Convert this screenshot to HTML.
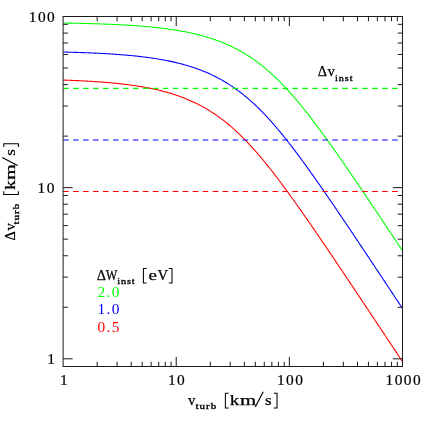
<!DOCTYPE html>
<html><head><meta charset="utf-8"><title>plot</title>
<style>html,body{margin:0;padding:0;background:#fff;overflow:hidden;}svg{display:block;will-change:transform;}text{font-family:"Liberation Serif",serif;fill:#000;stroke:#000;stroke-width:0.25;}.sb{font-family:"Liberation Serif",serif;stroke:#000;stroke-width:0.35;}</style></head><body>
<svg width="425" height="425" viewBox="0 0 425 425">
<rect x="0" y="0" width="425" height="425" fill="#fff"/>
<clipPath id="c"><rect x="63.10" y="16.50" width="339.40" height="350.00"/></clipPath>
<g clip-path="url(#c)" fill="none" stroke-width="1.08">
<path d="M63.10,23.02 L64.23,23.04 L65.36,23.06 L66.49,23.07 L67.63,23.09 L68.76,23.12 L69.89,23.14 L71.02,23.16 L72.15,23.18 L73.28,23.20 L74.41,23.23 L75.54,23.25 L76.68,23.27 L77.81,23.30 L78.94,23.32 L80.07,23.35 L81.20,23.37 L82.33,23.40 L83.46,23.43 L84.60,23.46 L85.73,23.49 L86.86,23.52 L87.99,23.55 L89.12,23.58 L90.25,23.61 L91.38,23.64 L92.51,23.68 L93.65,23.71 L94.78,23.74 L95.91,23.78 L97.04,23.82 L98.17,23.85 L99.30,23.89 L100.43,23.93 L101.57,23.97 L102.70,24.01 L103.83,24.05 L104.96,24.10 L106.09,24.14 L107.22,24.18 L108.35,24.23 L109.48,24.28 L110.62,24.33 L111.75,24.37 L112.88,24.43 L114.01,24.48 L115.14,24.53 L116.27,24.58 L117.40,24.64 L118.54,24.69 L119.67,24.75 L120.80,24.81 L121.93,24.87 L123.06,24.93 L124.19,25.00 L125.32,25.06 L126.45,25.13 L127.59,25.20 L128.72,25.27 L129.85,25.34 L130.98,25.41 L132.11,25.48 L133.24,25.56 L134.37,25.64 L135.51,25.72 L136.64,25.80 L137.77,25.88 L138.90,25.97 L140.03,26.05 L141.16,26.14 L142.29,26.24 L143.42,26.33 L144.56,26.42 L145.69,26.52 L146.82,26.62 L147.95,26.73 L149.08,26.83 L150.21,26.94 L151.34,27.05 L152.48,27.16 L153.61,27.28 L154.74,27.39 L155.87,27.51 L157.00,27.64 L158.13,27.76 L159.26,27.89 L160.39,28.02 L161.53,28.16 L162.66,28.30 L163.79,28.44 L164.92,28.58 L166.05,28.73 L167.18,28.88 L168.31,29.04 L169.45,29.20 L170.58,29.36 L171.71,29.52 L172.84,29.69 L173.97,29.87 L175.10,30.04 L176.23,30.23 L177.36,30.41 L178.50,30.60 L179.63,30.80 L180.76,31.00 L181.89,31.20 L183.02,31.41 L184.15,31.62 L185.28,31.84 L186.42,32.06 L187.55,32.29 L188.68,32.52 L189.81,32.76 L190.94,33.00 L192.07,33.25 L193.20,33.51 L194.33,33.77 L195.47,34.04 L196.60,34.31 L197.73,34.59 L198.86,34.88 L199.99,35.17 L201.12,35.47 L202.25,35.77 L203.39,36.08 L204.52,36.40 L205.65,36.73 L206.78,37.06 L207.91,37.40 L209.04,37.75 L210.17,38.11 L211.30,38.47 L212.44,38.85 L213.57,39.23 L214.70,39.62 L215.83,40.01 L216.96,40.42 L218.09,40.84 L219.22,41.26 L220.36,41.69 L221.49,42.14 L222.62,42.59 L223.75,43.05 L224.88,43.53 L226.01,44.01 L227.14,44.50 L228.27,45.01 L229.41,45.52 L230.54,46.05 L231.67,46.58 L232.80,47.13 L233.93,47.69 L235.06,48.26 L236.19,48.84 L237.33,49.43 L238.46,50.04 L239.59,50.66 L240.72,51.29 L241.85,51.93 L242.98,52.59 L244.11,53.26 L245.24,53.94 L246.38,54.64 L247.51,55.35 L248.64,56.07 L249.77,56.81 L250.90,57.56 L252.03,58.32 L253.16,59.10 L254.30,59.89 L255.43,60.70 L256.56,61.52 L257.69,62.36 L258.82,63.21 L259.95,64.08 L261.08,64.96 L262.21,65.85 L263.35,66.76 L264.48,67.69 L265.61,68.63 L266.74,69.59 L267.87,70.56 L269.00,71.55 L270.13,72.55 L271.27,73.56 L272.40,74.60 L273.53,75.64 L274.66,76.71 L275.79,77.78 L276.92,78.87 L278.05,79.98 L279.18,81.10 L280.32,82.24 L281.45,83.39 L282.58,84.56 L283.71,85.74 L284.84,86.93 L285.97,88.14 L287.10,89.36 L288.24,90.59 L289.37,91.84 L290.50,93.11 L291.63,94.38 L292.76,95.67 L293.89,96.97 L295.02,98.29 L296.15,99.61 L297.29,100.95 L298.42,102.30 L299.55,103.66 L300.68,105.03 L301.81,106.42 L302.94,107.81 L304.07,109.22 L305.21,110.64 L306.34,112.06 L307.47,113.50 L308.60,114.94 L309.73,116.40 L310.86,117.86 L311.99,119.34 L313.12,120.82 L314.26,122.31 L315.39,123.81 L316.52,125.32 L317.65,126.83 L318.78,128.35 L319.91,129.88 L321.04,131.42 L322.18,132.96 L323.31,134.51 L324.44,136.06 L325.57,137.63 L326.70,139.19 L327.83,140.77 L328.96,142.35 L330.09,143.93 L331.23,145.52 L332.36,147.11 L333.49,148.71 L334.62,150.32 L335.75,151.92 L336.88,153.54 L338.01,155.15 L339.15,156.77 L340.28,158.40 L341.41,160.02 L342.54,161.66 L343.67,163.29 L344.80,164.93 L345.93,166.57 L347.06,168.21 L348.20,169.86 L349.33,171.51 L350.46,173.16 L351.59,174.82 L352.72,176.47 L353.85,178.13 L354.98,179.80 L356.12,181.46 L357.25,183.13 L358.38,184.79 L359.51,186.46 L360.64,188.14 L361.77,189.81 L362.90,191.48 L364.03,193.16 L365.17,194.84 L366.30,196.52 L367.43,198.20 L368.56,199.88 L369.69,201.57 L370.82,203.25 L371.95,204.94 L373.09,206.62 L374.22,208.31 L375.35,210.00 L376.48,211.69 L377.61,213.38 L378.74,215.07 L379.87,216.77 L381.00,218.46 L382.14,220.16 L383.27,221.85 L384.40,223.55 L385.53,225.24 L386.66,226.94 L387.79,228.64 L388.92,230.34 L390.06,232.04 L391.19,233.74 L392.32,235.44 L393.45,237.14 L394.58,238.84 L395.71,240.54 L396.84,242.24 L397.97,243.95 L399.11,245.65 L400.24,247.35 L401.37,249.06 L402.50,250.76" stroke="#00ff00"/>
<path d="M63.10,52.03 L64.23,52.06 L65.36,52.08 L66.49,52.11 L67.63,52.14 L68.76,52.17 L69.89,52.20 L71.02,52.24 L72.15,52.27 L73.28,52.30 L74.41,52.34 L75.54,52.37 L76.68,52.41 L77.81,52.44 L78.94,52.48 L80.07,52.52 L81.20,52.56 L82.33,52.60 L83.46,52.64 L84.60,52.68 L85.73,52.72 L86.86,52.77 L87.99,52.81 L89.12,52.86 L90.25,52.90 L91.38,52.95 L92.51,53.00 L93.65,53.05 L94.78,53.10 L95.91,53.15 L97.04,53.21 L98.17,53.26 L99.30,53.32 L100.43,53.38 L101.57,53.44 L102.70,53.50 L103.83,53.56 L104.96,53.62 L106.09,53.69 L107.22,53.75 L108.35,53.82 L109.48,53.89 L110.62,53.96 L111.75,54.03 L112.88,54.11 L114.01,54.18 L115.14,54.26 L116.27,54.34 L117.40,54.42 L118.54,54.51 L119.67,54.59 L120.80,54.68 L121.93,54.77 L123.06,54.86 L124.19,54.95 L125.32,55.05 L126.45,55.15 L127.59,55.25 L128.72,55.35 L129.85,55.45 L130.98,55.56 L132.11,55.67 L133.24,55.78 L134.37,55.90 L135.51,56.01 L136.64,56.13 L137.77,56.26 L138.90,56.38 L140.03,56.51 L141.16,56.64 L142.29,56.78 L143.42,56.92 L144.56,57.06 L145.69,57.20 L146.82,57.35 L147.95,57.50 L149.08,57.66 L150.21,57.81 L151.34,57.98 L152.48,58.14 L153.61,58.31 L154.74,58.48 L155.87,58.66 L157.00,58.84 L158.13,59.03 L159.26,59.22 L160.39,59.41 L161.53,59.61 L162.66,59.81 L163.79,60.02 L164.92,60.23 L166.05,60.45 L167.18,60.67 L168.31,60.90 L169.45,61.13 L170.58,61.37 L171.71,61.62 L172.84,61.86 L173.97,62.12 L175.10,62.38 L176.23,62.65 L177.36,62.92 L178.50,63.20 L179.63,63.48 L180.76,63.77 L181.89,64.07 L183.02,64.38 L184.15,64.69 L185.28,65.01 L186.42,65.33 L187.55,65.67 L188.68,66.01 L189.81,66.35 L190.94,66.71 L192.07,67.07 L193.20,67.45 L194.33,67.83 L195.47,68.21 L196.60,68.61 L197.73,69.02 L198.86,69.43 L199.99,69.86 L201.12,70.29 L202.25,70.73 L203.39,71.18 L204.52,71.64 L205.65,72.12 L206.78,72.60 L207.91,73.09 L209.04,73.59 L210.17,74.11 L211.30,74.63 L212.44,75.17 L213.57,75.71 L214.70,76.27 L215.83,76.84 L216.96,77.42 L218.09,78.01 L219.22,78.62 L220.36,79.23 L221.49,79.86 L222.62,80.51 L223.75,81.16 L224.88,81.83 L226.01,82.51 L227.14,83.21 L228.27,83.91 L229.41,84.64 L230.54,85.37 L231.67,86.12 L232.80,86.88 L233.93,87.66 L235.06,88.45 L236.19,89.26 L237.33,90.08 L238.46,90.91 L239.59,91.76 L240.72,92.63 L241.85,93.51 L242.98,94.40 L244.11,95.31 L245.24,96.24 L246.38,97.18 L247.51,98.13 L248.64,99.10 L249.77,100.09 L250.90,101.09 L252.03,102.10 L253.16,103.13 L254.30,104.18 L255.43,105.24 L256.56,106.32 L257.69,107.41 L258.82,108.51 L259.95,109.64 L261.08,110.77 L262.21,111.92 L263.35,113.09 L264.48,114.26 L265.61,115.46 L266.74,116.67 L267.87,117.89 L269.00,119.12 L270.13,120.37 L271.27,121.63 L272.40,122.91 L273.53,124.20 L274.66,125.50 L275.79,126.81 L276.92,128.14 L278.05,129.48 L279.18,130.83 L280.32,132.19 L281.45,133.56 L282.58,134.95 L283.71,136.34 L284.84,137.75 L285.97,139.16 L287.10,140.59 L288.24,142.03 L289.37,143.48 L290.50,144.93 L291.63,146.40 L292.76,147.87 L293.89,149.35 L295.02,150.85 L296.15,152.35 L297.29,153.85 L298.42,155.37 L299.55,156.89 L300.68,158.42 L301.81,159.96 L302.94,161.50 L304.07,163.06 L305.21,164.61 L306.34,166.18 L307.47,167.75 L308.60,169.32 L309.73,170.90 L310.86,172.49 L311.99,174.08 L313.12,175.67 L314.26,177.28 L315.39,178.88 L316.52,180.49 L317.65,182.11 L318.78,183.72 L319.91,185.35 L321.04,186.97 L322.18,188.60 L323.31,190.24 L324.44,191.87 L325.57,193.51 L326.70,195.16 L327.83,196.80 L328.96,198.45 L330.09,200.10 L331.23,201.76 L332.36,203.41 L333.49,205.07 L334.62,206.74 L335.75,208.40 L336.88,210.07 L338.01,211.73 L339.15,213.40 L340.28,215.08 L341.41,216.75 L342.54,218.43 L343.67,220.10 L344.80,221.78 L345.93,223.46 L347.06,225.14 L348.20,226.83 L349.33,228.51 L350.46,230.20 L351.59,231.88 L352.72,233.57 L353.85,235.26 L354.98,236.95 L356.12,238.64 L357.25,240.33 L358.38,242.03 L359.51,243.72 L360.64,245.42 L361.77,247.11 L362.90,248.81 L364.03,250.51 L365.17,252.20 L366.30,253.90 L367.43,255.60 L368.56,257.30 L369.69,259.00 L370.82,260.70 L371.95,262.40 L373.09,264.11 L374.22,265.81 L375.35,267.51 L376.48,269.21 L377.61,270.92 L378.74,272.62 L379.87,274.33 L381.00,276.03 L382.14,277.74 L383.27,279.44 L384.40,281.15 L385.53,282.85 L386.66,284.56 L387.79,286.27 L388.92,287.97 L390.06,289.68 L391.19,291.39 L392.32,293.10 L393.45,294.80 L394.58,296.51 L395.71,298.22 L396.84,299.93 L397.97,301.64 L399.11,303.35 L400.24,305.05 L401.37,306.76 L402.50,308.47" stroke="#0000ff"/>
<path d="M63.10,80.07 L64.23,80.11 L65.36,80.15 L66.49,80.19 L67.63,80.23 L68.76,80.27 L69.89,80.32 L71.02,80.36 L72.15,80.41 L73.28,80.46 L74.41,80.50 L75.54,80.55 L76.68,80.61 L77.81,80.66 L78.94,80.71 L80.07,80.77 L81.20,80.82 L82.33,80.88 L83.46,80.94 L84.60,81.00 L85.73,81.06 L86.86,81.12 L87.99,81.18 L89.12,81.25 L90.25,81.32 L91.38,81.38 L92.51,81.45 L93.65,81.53 L94.78,81.60 L95.91,81.67 L97.04,81.75 L98.17,81.83 L99.30,81.91 L100.43,81.99 L101.57,82.08 L102.70,82.16 L103.83,82.25 L104.96,82.34 L106.09,82.43 L107.22,82.53 L108.35,82.63 L109.48,82.72 L110.62,82.83 L111.75,82.93 L112.88,83.04 L114.01,83.14 L115.14,83.26 L116.27,83.37 L117.40,83.49 L118.54,83.60 L119.67,83.73 L120.80,83.85 L121.93,83.98 L123.06,84.11 L124.19,84.24 L125.32,84.38 L126.45,84.52 L127.59,84.66 L128.72,84.81 L129.85,84.96 L130.98,85.11 L132.11,85.27 L133.24,85.43 L134.37,85.59 L135.51,85.76 L136.64,85.93 L137.77,86.10 L138.90,86.28 L140.03,86.47 L141.16,86.65 L142.29,86.85 L143.42,87.04 L144.56,87.24 L145.69,87.45 L146.82,87.66 L147.95,87.88 L149.08,88.10 L150.21,88.32 L151.34,88.55 L152.48,88.79 L153.61,89.03 L154.74,89.27 L155.87,89.53 L157.00,89.78 L158.13,90.05 L159.26,90.32 L160.39,90.59 L161.53,90.88 L162.66,91.17 L163.79,91.46 L164.92,91.76 L166.05,92.07 L167.18,92.39 L168.31,92.71 L169.45,93.04 L170.58,93.38 L171.71,93.72 L172.84,94.07 L173.97,94.43 L175.10,94.80 L176.23,95.18 L177.36,95.56 L178.50,95.96 L179.63,96.36 L180.76,96.77 L181.89,97.19 L183.02,97.62 L184.15,98.06 L185.28,98.50 L186.42,98.96 L187.55,99.43 L188.68,99.91 L189.81,100.39 L190.94,100.89 L192.07,101.40 L193.20,101.92 L194.33,102.45 L195.47,102.99 L196.60,103.54 L197.73,104.11 L198.86,104.68 L199.99,105.27 L201.12,105.87 L202.25,106.48 L203.39,107.11 L204.52,107.75 L205.65,108.40 L206.78,109.06 L207.91,109.73 L209.04,110.42 L210.17,111.12 L211.30,111.84 L212.44,112.57 L213.57,113.31 L214.70,114.07 L215.83,114.84 L216.96,115.63 L218.09,116.43 L219.22,117.24 L220.36,118.07 L221.49,118.91 L222.62,119.77 L223.75,120.64 L224.88,121.53 L226.01,122.43 L227.14,123.35 L228.27,124.28 L229.41,125.23 L230.54,126.19 L231.67,127.17 L232.80,128.16 L233.93,129.17 L235.06,130.19 L236.19,131.23 L237.33,132.28 L238.46,133.35 L239.59,134.43 L240.72,135.53 L241.85,136.64 L242.98,137.77 L244.11,138.91 L245.24,140.06 L246.38,141.23 L247.51,142.42 L248.64,143.62 L249.77,144.83 L250.90,146.05 L252.03,147.29 L253.16,148.55 L254.30,149.81 L255.43,151.09 L256.56,152.38 L257.69,153.69 L258.82,155.00 L259.95,156.33 L261.08,157.67 L262.21,159.02 L263.35,160.39 L264.48,161.76 L265.61,163.14 L266.74,164.54 L267.87,165.95 L269.00,167.36 L270.13,168.79 L271.27,170.23 L272.40,171.67 L273.53,173.12 L274.66,174.59 L275.79,176.06 L276.92,177.54 L278.05,179.03 L279.18,180.53 L280.32,182.03 L281.45,183.54 L282.58,185.06 L283.71,186.59 L284.84,188.12 L285.97,189.66 L287.10,191.21 L288.24,192.76 L289.37,194.32 L290.50,195.88 L291.63,197.45 L292.76,199.02 L293.89,200.60 L295.02,202.19 L296.15,203.78 L297.29,205.37 L298.42,206.97 L299.55,208.58 L300.68,210.18 L301.81,211.79 L302.94,213.41 L304.07,215.03 L305.21,216.65 L306.34,218.28 L307.47,219.91 L308.60,221.54 L309.73,223.17 L310.86,224.81 L311.99,226.45 L313.12,228.10 L314.26,229.74 L315.39,231.39 L316.52,233.04 L317.65,234.70 L318.78,236.35 L319.91,238.01 L321.04,239.67 L322.18,241.33 L323.31,243.00 L324.44,244.66 L325.57,246.33 L326.70,248.00 L327.83,249.67 L328.96,251.34 L330.09,253.01 L331.23,254.69 L332.36,256.37 L333.49,258.04 L334.62,259.72 L335.75,261.40 L336.88,263.08 L338.01,264.77 L339.15,266.45 L340.28,268.13 L341.41,269.82 L342.54,271.51 L343.67,273.19 L344.80,274.88 L345.93,276.57 L347.06,278.26 L348.20,279.95 L349.33,281.64 L350.46,283.33 L351.59,285.03 L352.72,286.72 L353.85,288.41 L354.98,290.11 L356.12,291.80 L357.25,293.50 L358.38,295.19 L359.51,296.89 L360.64,298.59 L361.77,300.29 L362.90,301.98 L364.03,303.68 L365.17,305.38 L366.30,307.08 L367.43,308.78 L368.56,310.48 L369.69,312.18 L370.82,313.88 L371.95,315.58 L373.09,317.29 L374.22,318.99 L375.35,320.69 L376.48,322.39 L377.61,324.10 L378.74,325.80 L379.87,327.50 L381.00,329.21 L382.14,330.91 L383.27,332.61 L384.40,334.32 L385.53,336.02 L386.66,337.73 L387.79,339.43 L388.92,341.14 L390.06,342.84 L391.19,344.55 L392.32,346.25 L393.45,347.96 L394.58,349.67 L395.71,351.37 L396.84,353.08 L397.97,354.78 L399.11,356.49 L400.24,358.20 L401.37,359.91 L402.50,361.61" stroke="#ff0000"/>
<line x1="63.10" y1="88.36" x2="402.50" y2="88.36" stroke="#00ff00" stroke-dasharray="5.6,4.37"/>
<line x1="63.10" y1="140.02" x2="402.50" y2="140.02" stroke="#0000ff" stroke-dasharray="5.6,4.37"/>
<line x1="63.10" y1="191.46" x2="402.50" y2="191.46" stroke="#ff0000" stroke-dasharray="5.6,4.37"/>
</g>
<g stroke="#1a1a1a" stroke-width="1.0" fill="none">
<rect x="63.10" y="16.50" width="339.40" height="350.00"/>
<path d="M97.16,366.50 v-4.80 M97.16,16.50 v4.80 M117.08,366.50 v-4.80 M117.08,16.50 v4.80 M131.21,366.50 v-4.80 M131.21,16.50 v4.80 M142.18,366.50 v-4.80 M142.18,16.50 v4.80 M151.13,366.50 v-4.80 M151.13,16.50 v4.80 M158.71,366.50 v-4.80 M158.71,16.50 v4.80 M165.27,366.50 v-4.80 M165.27,16.50 v4.80 M171.06,366.50 v-4.80 M171.06,16.50 v4.80 M176.23,366.50 v-9.60 M176.23,16.50 v9.60 M210.29,366.50 v-4.80 M210.29,16.50 v4.80 M230.21,366.50 v-4.80 M230.21,16.50 v4.80 M244.35,366.50 v-4.80 M244.35,16.50 v4.80 M255.31,366.50 v-4.80 M255.31,16.50 v4.80 M264.27,366.50 v-4.80 M264.27,16.50 v4.80 M271.84,366.50 v-4.80 M271.84,16.50 v4.80 M278.40,366.50 v-4.80 M278.40,16.50 v4.80 M284.19,366.50 v-4.80 M284.19,16.50 v4.80 M289.37,366.50 v-9.60 M289.37,16.50 v9.60 M323.42,366.50 v-4.80 M323.42,16.50 v4.80 M343.34,366.50 v-4.80 M343.34,16.50 v4.80 M357.48,366.50 v-4.80 M357.48,16.50 v4.80 M368.44,366.50 v-4.80 M368.44,16.50 v4.80 M377.40,366.50 v-4.80 M377.40,16.50 v4.80 M384.98,366.50 v-4.80 M384.98,16.50 v4.80 M391.54,366.50 v-4.80 M391.54,16.50 v4.80 M397.32,366.50 v-4.80 M397.32,16.50 v4.80 M63.10,358.80 h9.60 M402.50,358.80 h-9.60 M63.10,307.28 h4.80 M402.50,307.28 h-4.80 M63.10,277.14 h4.80 M402.50,277.14 h-4.80 M63.10,255.76 h4.80 M402.50,255.76 h-4.80 M63.10,239.17 h4.80 M402.50,239.17 h-4.80 M63.10,225.62 h4.80 M402.50,225.62 h-4.80 M63.10,214.16 h4.80 M402.50,214.16 h-4.80 M63.10,204.24 h4.80 M402.50,204.24 h-4.80 M63.10,195.48 h4.80 M402.50,195.48 h-4.80 M63.10,187.65 h9.60 M402.50,187.65 h-9.60 M63.10,136.13 h4.80 M402.50,136.13 h-4.80 M63.10,105.99 h4.80 M402.50,105.99 h-4.80 M63.10,84.61 h4.80 M402.50,84.61 h-4.80 M63.10,68.02 h4.80 M402.50,68.02 h-4.80 M63.10,54.47 h4.80 M402.50,54.47 h-4.80 M63.10,43.01 h4.80 M402.50,43.01 h-4.80 M63.10,33.09 h4.80 M402.50,33.09 h-4.80 M63.10,24.33 h4.80 M402.50,24.33 h-4.80"/>
</g>
<text x="60.00" y="385.00" font-size="14.4" letter-spacing="1.3" textLength="9.10" lengthAdjust="spacingAndGlyphs" style="stroke-width:0.2;">1</text>
<text x="167.90" y="385.00" font-size="14.4" letter-spacing="1.3" textLength="18.19" lengthAdjust="spacingAndGlyphs" style="stroke-width:0.2;">10</text>
<text x="277.00" y="385.00" font-size="14.4" letter-spacing="1.3" textLength="27.29" lengthAdjust="spacingAndGlyphs" style="stroke-width:0.2;">100</text>
<text x="385.60" y="385.00" font-size="14.4" letter-spacing="1.3" textLength="36.38" lengthAdjust="spacingAndGlyphs" style="stroke-width:0.2;">1000</text>
<text x="47.20" y="364.30" font-size="14.4" letter-spacing="1.3" textLength="9.10" lengthAdjust="spacingAndGlyphs" style="stroke-width:0.2;">1</text>
<text x="37.60" y="193.00" font-size="14.4" letter-spacing="1.3" textLength="18.19" lengthAdjust="spacingAndGlyphs" style="stroke-width:0.2;">10</text>
<text x="28.80" y="22.00" font-size="14.4" letter-spacing="1.3" textLength="27.29" lengthAdjust="spacingAndGlyphs" style="stroke-width:0.2;">100</text>
<text x="188.00" y="404.50" font-size="14.3" textLength="7.40" lengthAdjust="spacingAndGlyphs">v</text>
<text x="195.60" y="408.70" font-size="9.0" letter-spacing="0.8" textLength="21.60" lengthAdjust="spacingAndGlyphs" class="sb">turb</text>
<path d="M228.60,393.30 h-3.20 v14.60 h3.20" fill="none" stroke="#000" stroke-width="1.05"/>
<text x="229.80" y="404.50" font-size="14.3" textLength="9.60" lengthAdjust="spacingAndGlyphs">k</text>
<text x="240.00" y="404.50" font-size="14.3" textLength="16.20" lengthAdjust="spacingAndGlyphs">m</text>
<line x1="255.30" y1="407.10" x2="263.20" y2="391.70" stroke="#000" stroke-width="1.15"/>
<text x="265.00" y="404.50" font-size="14.3" textLength="6.60" lengthAdjust="spacingAndGlyphs">s</text>
<path d="M273.80,393.30 h3.20 v14.60 h-3.20" fill="none" stroke="#000" stroke-width="1.05"/>
<g transform="translate(15.0,240.6) rotate(-90)">
<text x="0.00" y="0.00" font-size="13.8" textLength="9.20" lengthAdjust="spacingAndGlyphs">&#916;</text>
<text x="10.20" y="0.00" font-size="14.3" textLength="7.40" lengthAdjust="spacingAndGlyphs">v</text>
<text x="16.20" y="4.20" font-size="9.0" letter-spacing="0.8" textLength="21.60" lengthAdjust="spacingAndGlyphs" class="sb">turb</text>
<path d="M49.30,-11.20 h-3.20 v14.60 h3.20" fill="none" stroke="#000" stroke-width="1.05"/>
<text x="50.50" y="0.00" font-size="14.3" textLength="9.60" lengthAdjust="spacingAndGlyphs">k</text>
<text x="60.70" y="0.00" font-size="14.3" textLength="15.80" lengthAdjust="spacingAndGlyphs">m</text>
<line x1="75.20" y1="2.60" x2="83.10" y2="-12.80" stroke="#000" stroke-width="1.15"/>
<text x="84.90" y="0.00" font-size="14.3" textLength="6.60" lengthAdjust="spacingAndGlyphs">s</text>
<path d="M93.70,-11.20 h3.20 v14.60 h-3.20" fill="none" stroke="#000" stroke-width="1.05"/>
</g>
<text x="317.80" y="76.00" font-size="13.8" textLength="9.20" lengthAdjust="spacingAndGlyphs">&#916;</text>
<text x="327.60" y="76.00" font-size="14.3" textLength="7.40" lengthAdjust="spacingAndGlyphs">v</text>
<text x="335.00" y="80.80" font-size="9.0" letter-spacing="0.8" textLength="18.40" lengthAdjust="spacingAndGlyphs" class="sb">inst</text>
<text x="96.80" y="279.60" font-size="13.8" textLength="9.20" lengthAdjust="spacingAndGlyphs">&#916;</text>
<text x="105.80" y="279.60" font-size="14.3" textLength="11.60" lengthAdjust="spacingAndGlyphs">W</text>
<text x="117.20" y="283.80" font-size="9.0" letter-spacing="0.8" textLength="18.40" lengthAdjust="spacingAndGlyphs" class="sb">inst</text>
<path d="M146.60,268.40 h-3.20 v14.60 h3.20" fill="none" stroke="#000" stroke-width="1.05"/>
<text x="148.60" y="279.60" font-size="14.3" textLength="8.40" lengthAdjust="spacingAndGlyphs">e</text>
<text x="157.40" y="279.60" font-size="14.3" textLength="10.60" lengthAdjust="spacingAndGlyphs">V</text>
<path d="M168.80,268.40 h3.20 v14.60 h-3.20" fill="none" stroke="#000" stroke-width="1.05"/>
<text x="97.40" y="296.60" font-size="14.4" letter-spacing="1.3" textLength="23.43" lengthAdjust="spacingAndGlyphs" style="fill:#00ff00;stroke:none;">2.0</text>
<text x="97.40" y="314.30" font-size="14.4" letter-spacing="1.3" textLength="23.43" lengthAdjust="spacingAndGlyphs" style="fill:#0000ff;stroke:none;">1.0</text>
<text x="97.40" y="331.80" font-size="14.4" letter-spacing="1.3" textLength="23.43" lengthAdjust="spacingAndGlyphs" style="fill:#ff0000;stroke:none;">0.5</text>
</svg></body></html>
